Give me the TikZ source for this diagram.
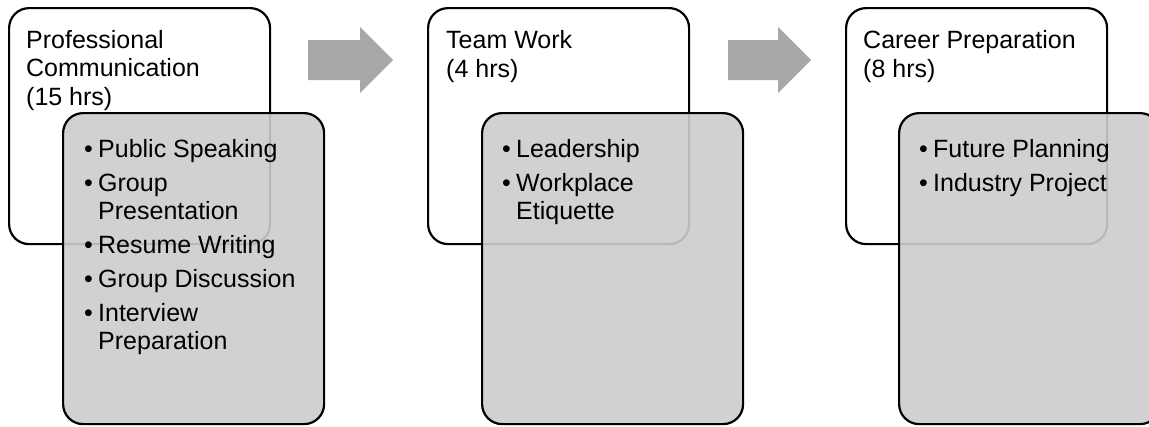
\documentclass[tikz,border=0pt]{standalone}
\usepackage{fontspec}
\setmainfont{Liberation Sans}
\definecolor{boxgrey}{RGB}{204,204,204}
\definecolor{arrowgrey}{RGB}{168,168,168}
\newcommand\bul{\makebox[14pt][l]{\textbullet}}
\newcommand\ind{\hspace*{14pt}}
\begin{document}
\begin{tikzpicture}[x=1pt,y=-1pt,
  whitebox/.style={draw=black, line width=2.2pt, rounded corners=20pt, fill=white,
    anchor=north west, inner sep=0pt, minimum width=261pt, minimum height=236pt},
  greybox/.style={draw=black, line width=2.2pt, rounded corners=20pt, fill=boxgrey,
    fill opacity=0.9, draw opacity=1, anchor=north west, inner sep=0pt,
    minimum width=261pt, minimum height=311pt},
  titletext/.style={anchor=base west, align=left, inner sep=0pt,
    font=\fontsize{25}{28.5}\selectfont},
  listtext/.style={anchor=base west, align=left, inner sep=0pt,
    font=\fontsize{25}{28}\selectfont},
  flowarrow/.style={fill=arrowgrey}]
\useasboundingbox (0,0) rectangle (1149,426);
\clip (0,0) rectangle (1149,426);
% boxes
\node[whitebox] (w1) at (8,7) {};
\node[greybox]  (g1) at (62,112) {};
\node[whitebox] (w2) at (427,7) {};
\node[greybox]  (g2) at (481,112) {};
\node[whitebox] (w3) at (845,7) {};
\node[greybox]  (g3) at (898,112) {};
% arrows
\fill[flowarrow] (308,40) -- (360,40) -- (360,27) -- (393,60) -- (360,93) -- (360,80) -- (308,80) -- cycle;
\fill[flowarrow] (728,40) -- (778,40) -- (778,27) -- (811,60) -- (778,93) -- (778,80) -- (728,80) -- cycle;
% titles (anchored at the baseline of the last line)
\node[titletext] (t1) at (26,105) {Professional\\Communication\\(15 hrs)};
\node[titletext] (t2) at (446,77) {Team Work\\(4 hrs)};
\node[titletext] (t3) at (863,77) {Career Preparation\\(8 hrs)};
% lists (anchored at the baseline of the last line)
\node[listtext] (l1) at (84,349) {\bul Public Speaking\\[6pt]\bul Group\\\ind Presentation\\[6pt]\bul Resume Writing\\[6pt]\bul Group Discussion\\[6pt]\bul Interview\\\ind Preparation};
\node[listtext] (l2) at (502,219) {\bul Leadership\\[6pt]\bul Workplace\\\ind Etiquette};
\node[listtext] (l3) at (919,191) {\bul Future Planning\\[6pt]\bul Industry Project};
\end{tikzpicture}
\end{document}
